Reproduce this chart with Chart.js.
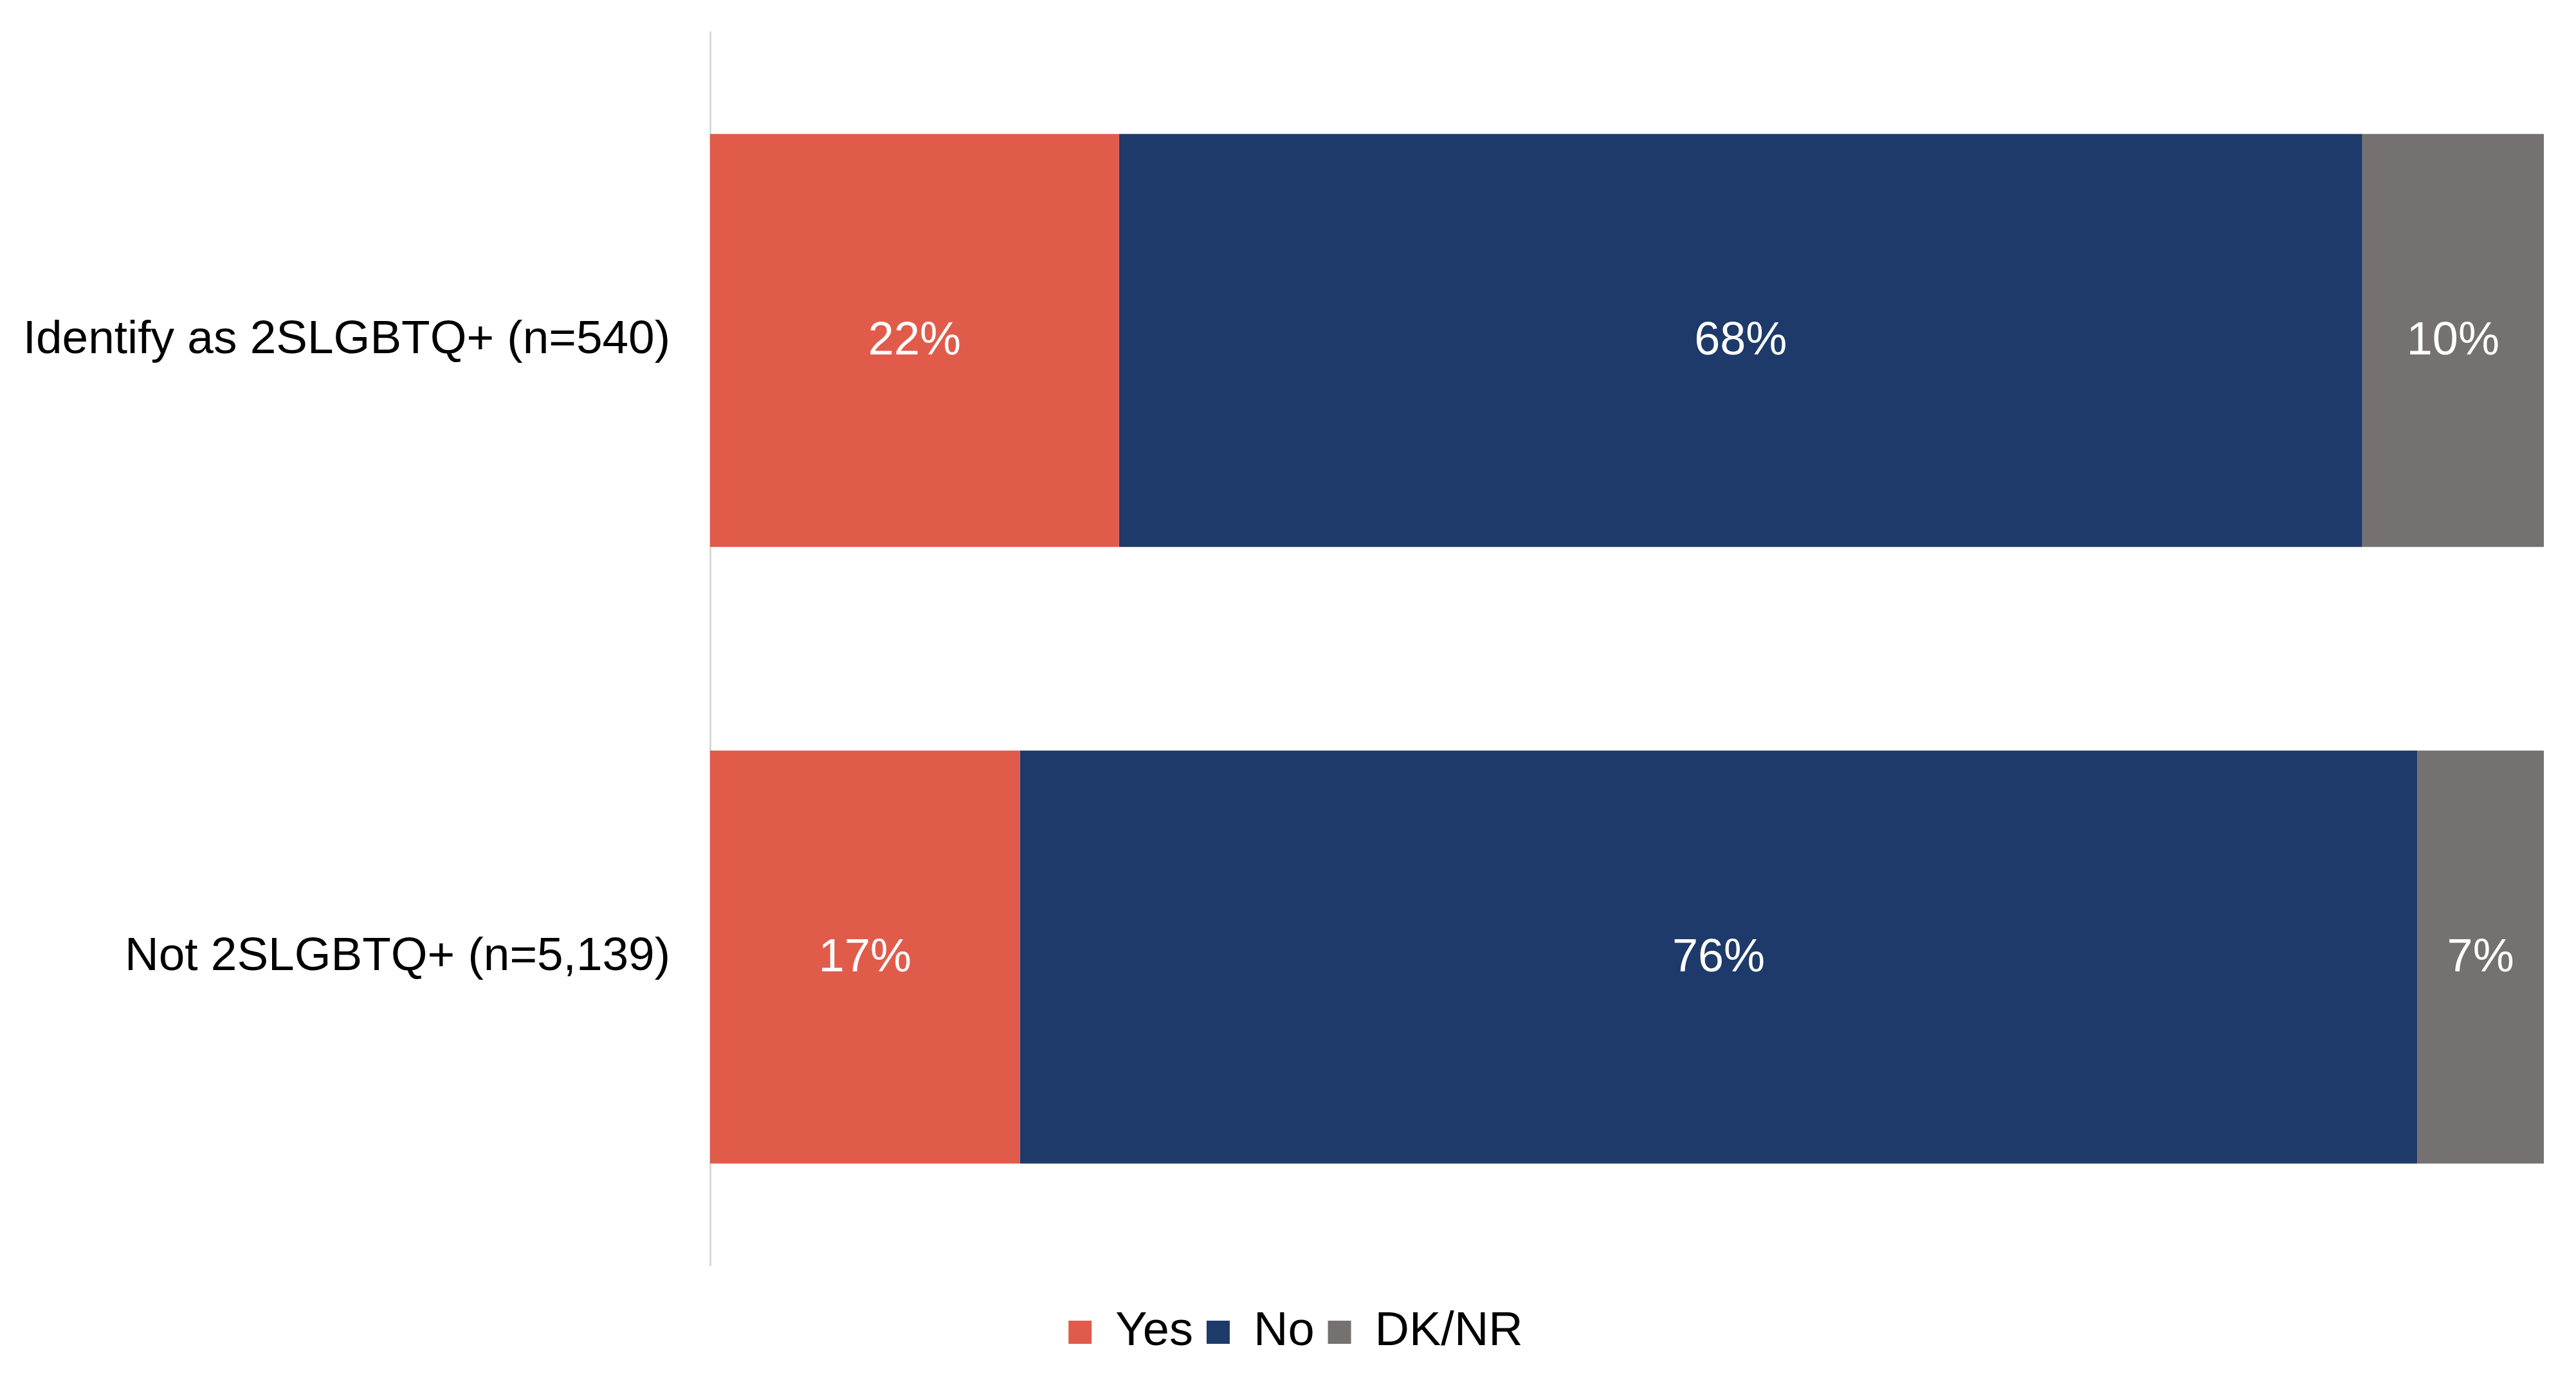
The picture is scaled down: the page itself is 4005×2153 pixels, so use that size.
<!DOCTYPE html>
<html>
<head>
<meta charset="utf-8">
<script src="https://cdn.jsdelivr.net/npm/chart.js@4.4.1/dist/chart.umd.min.js"></script>
<style>
  html, body { margin: 0; padding: 0; background: #ffffff; }
  #wrap { width: 4005px; height: 2153px; position: relative; }
</style>
</head>
<body>
<div id="wrap"><canvas id="c" width="4005" height="2153"></canvas></div>
<script>
const categories = ["Identify as 2SLGBTQ+ (n=540)", "Not 2SLGBTQ+ (n=5,139)"];
const seriesNames = ["Yes", "No", "DK/NR"];
const yesValues = [22.3, 16.9];
const noValues = [67.8, 76.2];
const dkValues = [9.9, 6.9];
const seriesColors = ["#E15B4B", "#1E3A6A", "#767171"];

const FONT = "'Liberation Sans', Arial, sans-serif";

const valueLabels = {
  id: 'valueLabels',
  afterDatasetsDraw(chart) {
    const ctx = chart.ctx;
    ctx.save();
    ctx.font = "72px " + FONT;
    ctx.fillStyle = "#ffffff";
    ctx.textAlign = "center";
    ctx.textBaseline = "middle";
    chart.data.datasets.forEach((ds, i) => {
      const meta = chart.getDatasetMeta(i);
      meta.data.forEach((bar, j) => {
        const p = bar.getProps(['x', 'y', 'base'], true);
        const cx = (p.x + p.base) / 2;
        ctx.fillText(Math.round(ds.data[j]) + "%", cx, p.y + 2);
      });
    });
    ctx.restore();
  }
};

// shift the legend so it is centred like the reference (slightly right of the canvas centre)
const legendShift = {
  id: 'legendShift',
  afterLayout(chart) {
    if (chart.legend) {
      chart.legend.left += 37;
      chart.legend.right += 37;
    }
  }
};

new Chart(document.getElementById('c'), {
  type: 'bar',
  data: {
    labels: categories,
    datasets: [
      { label: seriesNames[0], data: yesValues, backgroundColor: seriesColors[0] },
      { label: seriesNames[1], data: noValues, backgroundColor: seriesColors[1] },
      { label: seriesNames[2], data: dkValues, backgroundColor: seriesColors[2] }
    ]
  },
  options: {
    indexAxis: 'y',
    responsive: false,
    animation: false,
    devicePixelRatio: 1,
    datasets: { bar: { barPercentage: 1, categoryPercentage: 0.67, borderWidth: 0 } },
    layout: { padding: { top: 50, right: 50, bottom: 35, left: 0 } },
    scales: {
      x: {
        stacked: true, min: 0, max: 100,
        display: true,
        grid: { display: false, drawTicks: false },
        border: { display: false },
        ticks: { display: false },
        afterFit: (s) => { s.height = 46; }
      },
      y: {
        stacked: true,
        grid: { display: false, drawTicks: false },
        border: { display: true, color: '#D9D9D9', width: 3 },
        ticks: { color: '#000000', font: { family: FONT, size: 73 }, padding: 62 },
        afterFit: (s) => { s.width = 1104; s.paddingTop = 0; s.paddingBottom = 0; }
      }
    },
    plugins: {
      legend: {
        position: 'bottom',
        labels: {
          color: '#000000',
          font: { family: FONT, size: 74 },
          boxWidth: 36, boxHeight: 36,
          padding: 21
        }
      },
      tooltip: { enabled: false },
      title: { display: false }
    }
  },
  plugins: [valueLabels, legendShift]
});
</script>
</body>
</html>
